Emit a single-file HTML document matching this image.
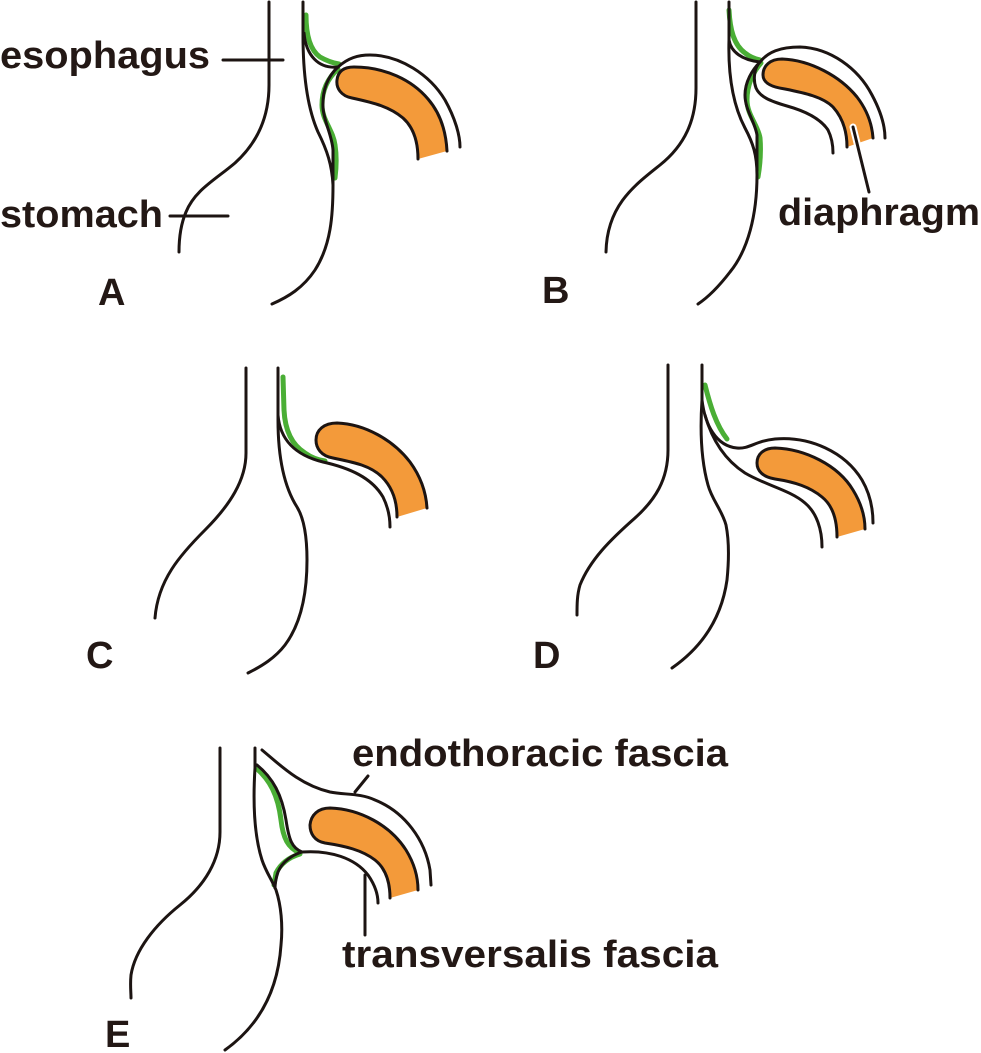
<!DOCTYPE html>
<html>
<head>
<meta charset="utf-8">
<style>
  html, body { margin: 0; padding: 0; background: #ffffff; }
  svg { display: block; }
  .k { fill: none; stroke: #1c1412; stroke-width: 3; stroke-linecap: round; stroke-linejoin: round; }
  .g { fill: none; stroke: #4aae35; stroke-width: 5; stroke-linecap: round; stroke-linejoin: round; }
  .o { fill: #f39a3a; stroke: none; }
  .t { font-family: "Liberation Sans", Arial, sans-serif; font-weight: bold; font-size: 38px; fill: #231815; }
</style>
</head>
<body>
<svg width="981" height="1053" viewBox="0 0 981 1053" xmlns="http://www.w3.org/2000/svg">
  <rect width="981" height="1053" fill="#ffffff"/>

  <!-- ================= PANEL A ================= -->
  <path class="o" d="M418,159 C418,140 413,127 403,118 C390,107 375,103 352,98 C341,96 336,88 337,80 C338,71 344,67 354,67 C385,67 412,80 428,99 C441,114 446,132 447,151 L418,159 Z"/>
  <path class="g" d="M306,15 C306,35 310,50 320,57 C327,61 333,63 339,64"/>
  <path class="g" d="M338,69 C328,78 322,90 322,105 C322,120 333,130 335,145 C337,158 336,170 335,178"/>
  <path class="k" d="M269,2 L269,85 C269,120 255,145 235,163 C215,180 195,190 186,212 C180,226 179,240 179,252"/>
  <path class="k" d="M303,2 L303,35 C303,70 306,105 318,132 C327,150 332,165 333,185 C333,215 331,245 315,270 C303,288 288,297 272,304"/>
  <path class="k" d="M304,33 C306,55 318,69 338,67"/>
  <path class="k" d="M338,67 C348,58 358,55 370,55 C400,55 430,75 445,100 C455,118 460,135 460,147"/>
  <path class="k" d="M338,67 C328,76 322,90 323,108 C324,122 332,135 333,150 L333,185"/>
  <path class="k" d="M418,159 C418,140 413,127 403,118 C390,107 375,103 352,98 C341,96 336,88 337,80 C338,71 344,67 354,67 C385,67 412,80 428,99 C441,114 446,132 447,151"/>
  <path class="k" d="M223,60 L283,60"/>
  <path class="k" d="M170,216 L228,216"/>
  <text class="t" x="0" y="68" textLength="210" lengthAdjust="spacingAndGlyphs">esophagus</text>
  <text class="t" x="0" y="227" textLength="163" lengthAdjust="spacingAndGlyphs">stomach</text>
  <text class="t" x="98" y="305">A</text>

  <!-- ================= PANEL B ================= -->
  <path class="o" d="M847,147 C847,130 842,117 833,107 C823,97 805,93 785,89 C770,87 763,82 763,75 C763,66 770,59 782,59 C810,60 840,76 857,97 C867,110 872,124 873,138 L847,147 Z"/>
  <path class="g" d="M729,10 C730,30 734,45 745,53 C750,57 755,59 760,60"/>
  <path class="g" d="M761,63 C753,72 747,85 747,100 C747,115 758,125 760,138 C761,150 760,165 758,177"/>
  <path class="k" d="M696,2 L696,88 C696,120 685,145 660,165 C635,185 607,205 606,252"/>
  <path class="k" d="M729,2 L729,40 C728,75 733,105 745,128 C753,143 757,155 757,175 C757,215 748,250 730,272 C720,285 710,296 698,304"/>
  <path class="k" d="M729,40 C731,52 742,60 760,62"/>
  <path class="k" d="M760,62 C768,52 780,47 800,47 C830,48 858,68 872,95 C880,110 885,125 885,138"/>
  <path class="k" d="M760,62 C754,68 753,80 756,88 C760,97 770,101 787,106 C805,111 820,118 828,130 C832,138 833,146 833,153"/>
  <path class="k" d="M760,62 C752,70 745,82 745,95 C745,110 755,122 757,135 L757,170"/>
  <path class="k" d="M847,147 C847,130 842,117 833,107 C823,97 805,93 785,89 C770,87 763,82 763,75 C763,66 770,59 782,59 C810,60 840,76 857,97 C867,110 872,124 873,138"/>
  <path d="M853,127 L858,147" stroke="#ffffff" stroke-width="7" stroke-linecap="round" fill="none"/>
  <path class="k" d="M853,127 L869,192"/>
  <text class="t" x="778" y="225" textLength="202" lengthAdjust="spacingAndGlyphs">diaphragm</text>
  <text class="t" x="542" y="303">B</text>

  <!-- ================= PANEL C ================= -->
  <path class="o" d="M397,517 C397,500 392,487 382,477 C370,465 352,462 333,458 C321,456 316,448 316,440 C316,430 324,423 337,423 C365,424 393,440 410,462 C421,477 426,492 427,508 L397,517 Z"/>
  <path class="g" d="M283,377 L284,410 C285,430 292,445 305,453 C312,458 318,460 325,461"/>
  <path class="k" d="M246,368 L246,453 C246,480 230,505 205,530 C180,555 158,580 155,618"/>
  <path class="k" d="M278,368 L278,420 C278,455 283,485 297,507 C305,520 307,540 307,560 C307,595 300,625 285,645 C275,658 262,666 248,673"/>
  <path class="k" d="M278,415 C280,440 295,455 323,462 C350,468 372,478 383,497 C388,507 390,517 390,527"/>
  <path class="k" d="M397,517 C397,500 392,487 382,477 C370,465 352,462 333,458 C321,456 316,448 316,440 C316,430 324,423 337,423 C365,424 393,440 410,462 C421,477 426,492 427,508"/>
  <text class="t" x="86" y="668">C</text>

  <!-- ================= PANEL D ================= -->
  <path class="o" d="M837,537 C837,518 832,505 822,497 C810,487 795,482 775,479 C763,477 757,471 757,463 C757,454 764,448 775,448 C805,449 838,465 853,490 C861,503 865,517 865,529 L837,537 Z"/>
  <path class="g" d="M705,385 C710,405 716,425 727,439"/>
  <path class="k" d="M668,365 L668,450 C668,480 655,500 635,518 C610,540 590,560 580,585 C577,595 577,605 577,615"/>
  <path class="k" d="M702,365 L702,400 C700,430 701,460 708,485 C712,500 722,510 726,525 C729,540 729,560 727,580 C722,615 705,645 672,668"/>
  <path class="k" d="M702,400 C705,425 716,446 737,448 C750,449 755,441 775,439 C810,436 845,452 862,480 C869,492 873,507 873,523"/>
  <path class="k" d="M705,415 C712,440 725,460 745,473 C765,485 790,490 805,503 C817,513 822,530 822,547"/>
  <path class="k" d="M837,537 C837,518 832,505 822,497 C810,487 795,482 775,479 C763,477 757,471 757,463 C757,454 764,448 775,448 C805,449 838,465 853,490 C861,503 865,517 865,529"/>
  <text class="t" x="533" y="668">D</text>

  <!-- ================= PANEL E ================= -->
  <path class="o" d="M390,898 C390,880 385,868 375,860 C362,850 345,846 325,843 C314,841 310,833 310,825 C311,815 318,808 330,808 C360,809 390,825 406,850 C414,863 418,877 418,890 L390,898 Z"/>
  <path class="g" d="M256,768 C270,780 278,795 281,820 C283,838 288,848 300,853"/>
  <path class="g" d="M300,854 C290,857 281,863 276,873 L274,885"/>
  <path class="k" d="M220,748 L220,832 C220,860 205,885 180,905 C155,925 135,950 131,975 C130,985 131,992 131,998"/>
  <path class="k" d="M255,748 L255,768 C253,800 254,835 262,860 C266,872 272,880 276,890 C281,905 283,925 281,945 C278,990 260,1025 225,1050"/>
  <path class="k" d="M262,750 C280,765 300,785 330,792 C345,795 360,793 375,800 C405,812 425,840 430,870 L431,885"/>
  <path class="k" d="M257,765 C273,778 282,795 286,820 C289,840 292,848 302,852"/>
  <path class="k" d="M302,852 C330,850 355,858 368,875 C375,885 378,895 378,903"/>
  <path class="k" d="M302,852 C292,855 282,862 278,872 C276,878 275,884 275,888"/>
  <path class="k" d="M390,898 C390,880 385,868 375,860 C362,850 345,846 325,843 C314,841 310,833 310,825 C311,815 318,808 330,808 C360,809 390,825 406,850 C414,863 418,877 418,890"/>
  <path class="k" d="M355,792 L368,776"/>
  <path class="k" d="M365,875 L365,935"/>
  <text class="t" x="352" y="766" textLength="376" lengthAdjust="spacingAndGlyphs">endothoracic fascia</text>
  <text class="t" x="342" y="967" textLength="376" lengthAdjust="spacingAndGlyphs">transversalis fascia</text>
  <text class="t" x="105" y="1047">E</text>
</svg>
</body>
</html>
